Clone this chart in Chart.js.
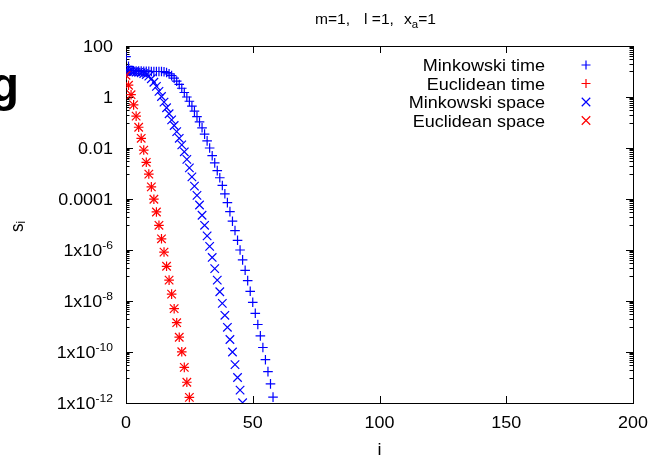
<!DOCTYPE html>
<html lang="en">
<head>
<meta charset="UTF-8" />
<title>s_i against i</title>
<script src="https://cdn.jsdelivr.net/npm/chart.js"></script>
<style>
  html, body { margin: 0; padding: 0; background: #fff; }
  #wrap { width: 655px; height: 456px; }
</style>
</head>
<body>
<div id="wrap"><canvas id="siChart" width="655" height="456"></canvas></div>
<script>
// s_i, one value per i, starting at i = 0
const minkowskiTime = [38, 16, 11, 10.7, 10.5, 10.5, 10.5, 10.2, 10.2, 10.2, 10, 10, 10, 10, 10,
  9.8, 9.1, 8.1, 6.9, 5.5, 4.2, 3.1, 2.2, 1.5, 1.0, 0.68, 0.44, 0.28, 0.17, 0.105, 0.062, 0.035,
  0.019, 0.010, 5.0e-3, 2.6e-3, 1.3e-3, 6.8e-4, 3.4e-4, 1.6e-4, 7.2e-5, 3.2e-5, 1.35e-5, 5.8e-6,
  2.4e-6, 1.0e-6, 4.1e-7, 1.6e-7, 6.3e-8, 2.4e-8, 8.9e-9, 3.3e-9, 1.2e-9, 4.3e-10, 1.5e-10,
  5.0e-11, 1.7e-11, 5.6e-12, 1.7e-12];
const euclideanTime = [7.1, 2.9, 1.23, 0.49, 0.178, 0.065, 0.024, 8.3e-3, 2.75e-3, 9.5e-4, 3.0e-4,
  9.8e-5, 3.1e-5, 9.3e-6, 2.75e-6, 8.3e-7, 2.3e-7, 6.6e-8, 1.86e-8, 5.0e-9, 1.41e-9, 3.8e-10,
  1.02e-10, 2.5e-11, 6.5e-12, 1.66e-12];
const minkowskiSpace = [10.5, 10, 10, 9.8, 9.5, 9.3, 8.9, 8.3, 7.6, 6.6, 5.2, 3.8, 2.6, 1.66, 1.05,
  0.63, 0.38, 0.22, 0.126, 0.076, 0.044, 0.024, 0.0132, 7.1e-3, 3.6e-3, 1.66e-3, 7.4e-4, 3.2e-4,
  1.38e-4, 5.8e-5, 2.3e-5, 9.3e-6, 3.6e-6, 1.38e-6, 5.1e-7, 1.86e-7, 6.6e-8, 2.3e-8, 8.1e-9,
  2.75e-9, 9.3e-10, 3.1e-10, 1.0e-10, 3.2e-11, 1.0e-11, 3.2e-12, 1.02e-12];
const euclideanSpace = [7.1, 2.9, 1.23, 0.49, 0.178, 0.065, 0.024, 8.3e-3, 2.75e-3, 9.5e-4, 3.0e-4,
  9.8e-5, 3.1e-5, 9.3e-6, 2.75e-6, 8.3e-7, 2.3e-7, 6.6e-8, 1.86e-8, 5.0e-9, 1.41e-9, 3.8e-10,
  1.02e-10, 2.5e-11, 6.5e-12, 1.66e-12];

const seriesLabels = ['Minkowski time', 'Euclidean time', 'Minkowski space', 'Euclidean space'];
const xTicks = [0, 50, 100, 150, 200];
const yTicks = [1e2, 1, 1e-2, 1e-4, 1e-6, 1e-8, 1e-10, 1e-12];
const yTickText = [['100', ''], ['1', ''], ['0.01', ''], ['0.0001', ''],
  ['1x10', '-6'], ['1x10', '-8'], ['1x10', '-10'], ['1x10', '-12']];

const FONT = '"Liberation Sans", Arial, sans-serif';
const BLUE = '#0000ff';
const RED = '#ff0000';

function toPoints(arr) {
  return arr.map((v, i) => ({ x: i, y: v }));
}

// text slightly stretched sideways, like the reference
function txt(ctx, s, x, y, size, align, sx) {
  ctx.save();
  ctx.translate(x, y);
  ctx.scale(sx, 1);
  ctx.font = size + 'px ' + FONT;
  ctx.textAlign = align;
  ctx.textBaseline = 'alphabetic';
  ctx.fillText(s, 0, 0);
  ctx.restore();
}
function textW(ctx, s, size, sx) {
  ctx.font = size + 'px ' + FONT;
  return ctx.measureText(s).width * sx;
}

function marker(ctx, style, x, y, r) {
  ctx.beginPath();
  if (style === 'cross') {
    ctx.moveTo(x - r, y); ctx.lineTo(x + r, y);
    ctx.moveTo(x, y - r); ctx.lineTo(x, y + r);
  } else {
    const d = r * Math.SQRT1_2;
    ctx.moveTo(x - d, y - d); ctx.lineTo(x + d, y + d);
    ctx.moveTo(x - d, y + d); ctx.lineTo(x + d, y - d);
  }
  ctx.stroke();
}

const gnuplotFrame = {
  id: 'gnuplotFrame',
  beforeDatasetsDraw(chart) {
    const ctx = chart.ctx, a = chart.chartArea;
    const xs = chart.scales.x, ys = chart.scales.y;
    ctx.save();
    ctx.strokeStyle = '#000';
    ctx.lineWidth = 1;
    ctx.strokeRect(Math.round(a.left) + 0.5, Math.round(a.top) + 0.5,
      Math.round(a.right - a.left), Math.round(a.bottom - a.top));

    ctx.beginPath();
    xTicks.forEach(v => {
      const px = Math.round(xs.getPixelForValue(v)) + 0.5;
      ctx.moveTo(px, a.bottom); ctx.lineTo(px, a.bottom - 7);
      ctx.moveTo(px, a.top); ctx.lineTo(px, a.top + 7);
    });
    yTicks.forEach((v, k) => {
      const py = Math.round(ys.getPixelForValue(v)) + 0.5;
      ctx.moveTo(a.left, py); ctx.lineTo(a.left + 7, py);
      ctx.moveTo(a.right, py); ctx.lineTo(a.right - 7, py);
      if (k < yTicks.length - 1) {
        const step = yTicks[k + 1] * 10;
        for (let n = 1; n <= 9; n++) {
          const my = Math.round(ys.getPixelForValue(n * step)) + 0.5;
          ctx.moveTo(a.left, my); ctx.lineTo(a.left + 3.5, my);
          ctx.moveTo(a.right, my); ctx.lineTo(a.right - 3.5, my);
        }
      }
    });
    ctx.stroke();

    ctx.fillStyle = '#000';
    // y tick labels, right aligned, with superscript exponents
    yTicks.forEach((v, k) => {
      const py = ys.getPixelForValue(v);
      const [base, sup] = yTickText[k];
      const right = 113;
      const wSup = sup ? textW(ctx, sup, 11, 1.1) : 0;
      const wBase = textW(ctx, base, 16, 1.12);
      txt(ctx, base, right - wSup - wBase, py + 6, 16, 'left', 1.12);
      if (sup) txt(ctx, sup, right - wSup, py - 1, 11, 'left', 1.1);
    });
    xTicks.forEach(v => {
      txt(ctx, String(v), xs.getPixelForValue(v), 428, 16, 'center', 1.12);
    });

    // axis titles
    txt(ctx, 'i', (a.left + a.right) / 2, 455, 16, 'center', 1.12);
    ctx.save();
    ctx.translate(23, 232);
    ctx.rotate(-Math.PI / 2);
    ctx.scale(1, 1.12);
    ctx.font = '17px ' + FONT;
    ctx.textAlign = 'left';
    ctx.fillText('s', 0, 0);
    const sw = ctx.measureText('s').width;
    ctx.font = '11px ' + FONT;
    ctx.fillText('i', sw, 2);
    ctx.restore();

    // title m=1, l=1, x_a=1
    let tx = 315;
    txt(ctx, 'm=1,', tx, 24, 15, 'left', 1.04);
    txt(ctx, 'l =1,', 364, 24, 15, 'left', 1.04);
    tx = 404;
    txt(ctx, 'x', tx, 24, 15, 'left', 1.04);
    tx += textW(ctx, 'x', 15, 1.04);
    txt(ctx, 'a', tx, 28, 11, 'left', 1.04);
    tx += textW(ctx, 'a', 11, 1.04);
    txt(ctx, '=1', tx, 24, 15, 'left', 1.04);

    // stray page letter at the left edge
    ctx.font = 'bold 48px ' + FONT;
    ctx.textAlign = 'right';
    ctx.fillText('g', 19, 101);
    ctx.restore();
  },
  afterDatasetsDraw(chart) {
    const ctx = chart.ctx;
    const rows = [65, 83.5, 102, 120.5];
    ctx.save();
    chart.data.datasets.forEach((ds, k) => {
      ctx.fillStyle = '#000';
      txt(ctx, ds.label, 545, rows[k] + 6, 17, 'right', 1.06);
      ctx.strokeStyle = ds.borderColor;
      ctx.lineWidth = 1.2;
      marker(ctx, ds.pointStyle, 586, rows[k], ds.pointStyle === 'cross' ? 4.5 : 6);
    });
    ctx.restore();
  }
};

const ctx = document.getElementById('siChart').getContext('2d');
new Chart(ctx, {
  type: 'scatter',
  data: {
    datasets: [
      { label: seriesLabels[0], data: toPoints(minkowskiTime), pointStyle: 'cross', borderColor: BLUE, backgroundColor: BLUE, pointRadius: 4.8, order: 4 },
      { label: seriesLabels[1], data: toPoints(euclideanTime), pointStyle: 'cross', borderColor: RED, backgroundColor: RED, pointRadius: 4.8, order: 3 },
      { label: seriesLabels[2], data: toPoints(minkowskiSpace), pointStyle: 'crossRot', borderColor: BLUE, backgroundColor: BLUE, pointRadius: 6, order: 2 },
      { label: seriesLabels[3], data: toPoints(euclideanSpace), pointStyle: 'crossRot', borderColor: RED, backgroundColor: RED, pointRadius: 6, order: 1 }
    ]
  },
  options: {
    responsive: false,
    animation: false,
    layout: { padding: { left: 126, right: 22, top: 46, bottom: 53 } },
    elements: { point: { borderWidth: 1.2, hoverRadius: 6 } },
    scales: {
      x: { type: 'linear', min: 0, max: 200, display: false },
      y: { type: 'logarithmic', min: 1e-12, max: 100, display: false }
    },
    plugins: {
      legend: { display: false },
      title: { display: false },
      tooltip: { enabled: false }
    }
  },
  plugins: [gnuplotFrame]
});
</script>
</body>
</html>
